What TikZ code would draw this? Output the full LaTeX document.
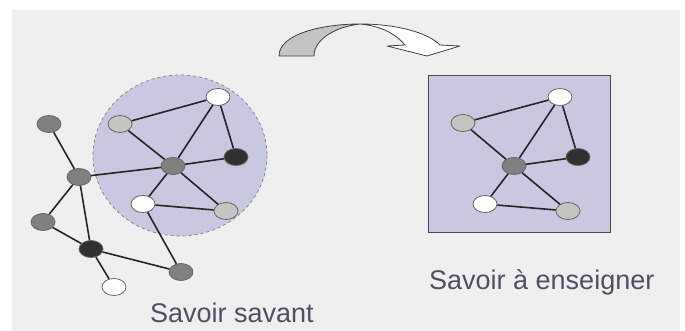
\documentclass[tikz,border=0pt]{standalone}
\usepackage{fontspec}
\setmainfont{Liberation Sans}
\usetikzlibrary{shapes.geometric}
\definecolor{bgpaper}{RGB}{239,239,239}
\definecolor{lav}{RGB}{200,200,224}
\definecolor{txt}{RGB}{80,80,100}
\definecolor{gdark}{RGB}{128,128,128}
\definecolor{glight}{RGB}{196,196,192}
\definecolor{gblack}{RGB}{48,48,48}
\definecolor{arrgray}{RGB}{196,196,196}
\tikzset{
  nd/.style={ellipse,minimum width=24pt,minimum height=17pt,inner sep=0pt,draw=gray!80!black,line width=0.8pt},
  ndark/.style={nd,fill=gdark},
  nlight/.style={nd,fill=glight},
  nwhite/.style={nd,fill=white},
  nblack/.style={nd,fill=gblack},
  edge/.style={line width=1.6pt,black!85},
  lbl/.style={text=txt,font=\fontsize{27}{32}\selectfont,inner sep=0pt,anchor=base west}
}
\begin{document}
\begin{tikzpicture}[x=1pt,y=-1pt]
\useasboundingbox (0,0) rectangle (685,331);
\fill[white] (0,0) rectangle (685,331);
\fill[bgpaper] (12,10) rectangle (680,331);
% left cloud
\draw[fill=lav,draw=gray,dashed,line width=0.7pt] (180,155.5) ellipse [x radius=87,y radius=80.5];
% right box
\draw[fill=lav,draw=black!70,line width=0.8pt] (428,75) rectangle (610,232);
% curved arrow
\draw[fill=arrgray,draw=black!75,line width=0.8pt,line join=round]
  (279,56) .. controls (279,34) and (322,24) .. (360,24)
  .. controls (334,27) and (314,40) .. (314,56) -- cycle;
\draw[fill=white,draw=black!75,line width=0.8pt,line join=round]
  (360,24) .. controls (398,24) and (428,33) .. (440,45)
  -- (460,46) -- (427,56) -- (387,46) -- (405,45)
  .. controls (395,33) and (380,26) .. (360,24) -- cycle;
% left graph
\node[ndark]  (A) at (49,124) {};
\node[nlight] (B) at (120,124) {};
\node[nwhite] (C) at (218,97) {};
\node[nblack] (D) at (236,157) {};
\node[ndark]  (E) at (173,166) {};
\node[ndark]  (F) at (79,177) {};
\node[nwhite] (G) at (143,204) {};
\node[nlight] (H) at (226,211) {};
\node[ndark]  (I) at (43,222) {};
\node[nblack] (J) at (91,249) {};
\node[ndark]  (K) at (181,272) {};
\node[nwhite] (L) at (114,287) {};
\draw[edge] (A)--(F) (B)--(E) (C)--(B) (C)--(E) (C)--(D) (D)--(E) (E)--(F)
  (E)--(G) (E)--(H) (G)--(H) (G)--(K) (F)--(I) (F)--(J) (I)--(J) (J)--(K) (J)--(L);
% right graph
\node[nwhite] (C2) at (560,97) {};
\node[nlight] (B2) at (463,123) {};
\node[nblack] (D2) at (578,157) {};
\node[ndark]  (E2) at (514,166) {};
\node[nwhite] (G2) at (485,204) {};
\node[nlight] (H2) at (568,211) {};
\draw[edge] (B2)--(C2) (B2)--(E2) (C2)--(E2) (C2)--(D2) (D2)--(E2) (E2)--(G2) (E2)--(H2) (G2)--(H2);
% labels
\node[lbl] (t1) at (150,322) {Savoir savant};
\node[lbl] (t2) at (429,289) {Savoir à enseigner};
\end{tikzpicture}
\end{document}
